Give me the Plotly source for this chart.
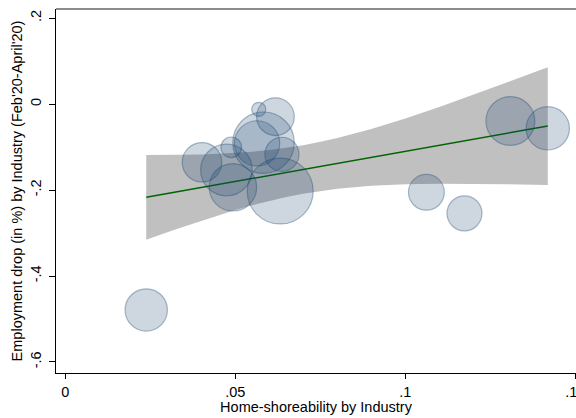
import plotly.graph_objects as go

# Industry-level data: home-shoreability vs. employment drop, bubble = employment share (%)
home_shoreability = [0.0238, 0.0402, 0.0488, 0.0569, 0.0618, 0.0583, 0.0564, 0.0474,
                     0.0637, 0.0493, 0.0632, 0.1309, 0.1419, 0.1062, 0.1174]
employment_drop = [-0.479, -0.1356, -0.1007, -0.0124, -0.0295, -0.090, -0.0915, -0.1535,
                   -0.117, -0.1937, -0.2023, -0.0395, -0.0566, -0.2054, -0.2543]
employment_share = [6.3, 5.5, 1.5, 0.7, 5.0, 13.3, 7.2, 9.4,
                    4.1, 7.9, 15.3, 8.4, 6.6, 4.5, 4.3]

# Linear fit and its 95% confidence band
fit_x = [0.0238, 0.1419]
fit_y = [-0.217, -0.0512]
band_x = [0.0238, 0.03, 0.035, 0.04, 0.045, 0.05, 0.055, 0.06, 0.065, 0.07,
          0.075, 0.08, 0.09, 0.1, 0.11, 0.12, 0.13, 0.1419]
band_upper = [-0.1185, -0.1184, -0.118, -0.1172, -0.1158, -0.1137, -0.1109, -0.1071,
              -0.1021, -0.0957, -0.088, -0.0792, -0.058, -0.0334, -0.0067, 0.0216,
              0.0506, 0.0858]
band_lower = [-0.3155, -0.2982, -0.2846, -0.2714, -0.2588, -0.2467, -0.2355, -0.2253,
              -0.2163, -0.2085, -0.2022, -0.197, -0.1902, -0.1866, -0.1853, -0.1854,
              -0.1864, -0.1882]

x_ticks = [0, 0.05, 0.1, 0.15]
x_ticktext = ["0", ".05", ".1", ".15"]
y_ticks = [0.2, 0, -0.2, -0.4, -0.6]
y_ticktext = [".2", "0", "-.2", "-.4", "-.6"]

font_family = "Liberation Sans, Arial, Helvetica, sans-serif"
font_size = 14.5

fig = go.Figure()

fig.add_trace(go.Scatter(
    x=band_x + band_x[::-1],
    y=band_upper + band_lower[::-1],
    fill="toself",
    fillcolor="rgb(192,192,192)",
    line=dict(width=0),
    mode="lines",
    hoverinfo="skip",
    showlegend=False,
))

fig.add_trace(go.Scatter(
    x=fit_x, y=fit_y,
    mode="lines",
    line=dict(color="#006400", width=1.5),
    showlegend=False,
))

fig.add_trace(go.Scatter(
    x=home_shoreability, y=employment_drop,
    mode="markers",
    marker=dict(
        size=employment_share,
        sizemode="area",
        sizeref=0.00704,
        color="rgba(26,71,111,0.3)",
        line=dict(color="rgba(26,71,111,0.55)", width=1.2),
    ),
    showlegend=False,
))

fig.update_layout(
    width=576, height=418,
    margin=dict(l=56, r=0, t=9, b=45, autoexpand=False),
    paper_bgcolor="white",
    plot_bgcolor="white",
    font=dict(family=font_family, size=font_size, color="black"),
    xaxis=dict(
        range=[-0.00274, 0.1502],
        automargin=False,
        tickvals=x_ticks, ticktext=x_ticktext,
        ticklabeloverflow="allow",
        ticks="outside", ticklen=5, tickcolor="black", tickwidth=1,
        showline=True, linecolor="black", linewidth=1.2,
        showgrid=False, zeroline=False,
        title=dict(text="Home-shoreability by Industry", standoff=2,
                   font=dict(size=font_size)),
        tickfont=dict(size=font_size),
    ),
    yaxis=dict(
        range=[-0.6256, 0.221],
        automargin=False,
        tickvals=y_ticks, ticktext=y_ticktext,
        tickangle=-90,
        ticks="outside", ticklen=6, tickcolor="black", tickwidth=1,
        ticklabelstandoff=2,
        showline=True, linecolor="black", linewidth=1.2,
        showgrid=False, zeroline=False,
        title=dict(text="Employment drop (in %) by Industry (Feb'20-April'20)",
                   standoff=2, font=dict(size=font_size)),
        tickfont=dict(size=font_size),
    ),
    shapes=[dict(type="line", xref="paper", yref="paper", x0=0, x1=1, y0=1, y1=1,
                 line=dict(color="#666666", width=1.5))],
    hovermode=False,
)

fig.write_html("out.html", config={"displayModeBar": False})
